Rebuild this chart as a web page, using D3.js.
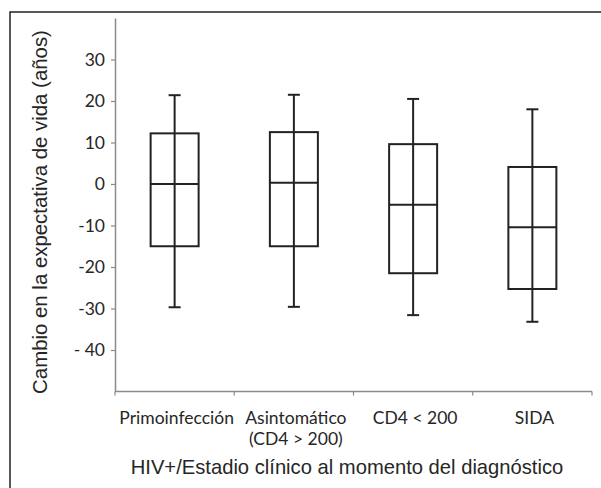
<!DOCTYPE html>
<html><head><meta charset="utf-8">
<script src="https://cdn.jsdelivr.net/npm/d3@7/dist/d3.min.js"></script>
<style>body{margin:0;background:#fff}svg{display:block}</style>
</head><body>
<script>
const categories = ["Primoinfección", "Asintomático|(CD4 > 200)", "CD4 < 200", "SIDA"];
const whiskerHigh = [21.4, 21.5, 20.5, 18.0];
const q3 = [12.2, 12.5, 9.6, 4.1];
const median = [0.0, 0.3, -5.0, -10.4];
const q1 = [-15.0, -15.0, -21.5, -25.3];
const whiskerLow = [-29.7, -29.6, -31.6, -33.2];
const yTicks = [30, 20, 10, 0, -10, -20, -30, -40];
const yTickLabels = ["30", "20", "10", "0", "-10", "-20", "-30", "- 40"];
const yTitle = "Cambio en la expectativa de vida (años)";
const xTitle = "HIV+/Estadio clínico al momento del diagnóstico";

const W = 601, H = 488;
const svg = d3.select("body").append("svg").attr("width", W).attr("height", H);

// frame
svg.append("rect").attr("x", 10).attr("y", 12).attr("width", 620).attr("height", 500)
  .attr("fill", "none").attr("stroke", "#222").attr("stroke-width", 1.5);

const y = d3.scaleLinear().domain([-50, 40]).range([391.5, 18]);
const x = d3.scaleBand().domain(categories).range([115, 592]).padding(0);

const axisColor = "#8a8a8a";
const textColor = "#262626";
const tickFont = "Lato, 'Open Sans', sans-serif";
const tickSize = "17.5px";

// Y axis
const ya = svg.append("g").attr("transform", "translate(115,0)")
  .call(d3.axisLeft(y).tickValues(yTicks).tickSize(4).tickSizeOuter(0).tickPadding(6)
    .tickFormat((d, i) => yTickLabels[i]));
ya.select(".domain").attr("stroke", axisColor).attr("stroke-width", 1.5);
ya.selectAll(".tick line").attr("stroke", axisColor).attr("stroke-width", 1.2);
ya.selectAll(".tick text").attr("fill", textColor).style("font-family", tickFont).style("font-size", tickSize);

// X axis
const xa = svg.append("g").attr("transform", "translate(0,391.5)");
xa.append("line").attr("x1", 115).attr("x2", 592).attr("y1", 0).attr("y2", 0)
  .attr("stroke", axisColor).attr("stroke-width", 1.5);
const edges = categories.map(c => x(c)).concat([x(categories[categories.length - 1]) + x.bandwidth()]);
xa.selectAll("line.tk").data(edges).enter().append("line").attr("class", "tk")
  .attr("x1", d => d).attr("x2", d => d).attr("y1", 0).attr("y2", 4)
  .attr("stroke", axisColor).attr("stroke-width", 1.2);

const labels = svg.append("g").selectAll("text").data(categories).enter().append("text")
  .attr("y", 424)
  .attr("text-anchor", "middle").attr("fill", textColor)
  .style("font-family", tickFont).style("font-size", tickSize);
labels.each(function(d) {
  const parts = d.split("|");
  d3.select(this).selectAll("tspan").data(parts).enter().append("tspan")
    .attr("x", x(d) + x.bandwidth() / 2 + 2).attr("dy", (p, i) => i === 0 ? 0 : 21).text(p => p);
});

// boxes
const boxW = 48, capW = 12;
const g = svg.append("g").attr("stroke", "#222").attr("stroke-width", 2).attr("fill", "none");
categories.forEach((c, i) => {
  const cx = x(c) + x.bandwidth() / 2;
  g.append("line").attr("x1", cx).attr("x2", cx).attr("y1", y(whiskerHigh[i])).attr("y2", y(whiskerLow[i]));
  g.append("line").attr("x1", cx - capW / 2).attr("x2", cx + capW / 2).attr("y1", y(whiskerHigh[i])).attr("y2", y(whiskerHigh[i]));
  g.append("line").attr("x1", cx - capW / 2).attr("x2", cx + capW / 2).attr("y1", y(whiskerLow[i])).attr("y2", y(whiskerLow[i]));
  g.append("rect").attr("x", cx - boxW / 2).attr("width", boxW)
    .attr("y", y(q3[i])).attr("height", y(q1[i]) - y(q3[i]));
  g.append("line").attr("x1", cx - boxW / 2).attr("x2", cx + boxW / 2).attr("y1", y(median[i])).attr("y2", y(median[i]));
});

// titles
svg.append("text").attr("transform", "translate(47,212) rotate(-90)")
  .attr("text-anchor", "middle").attr("fill", textColor)
  .style("font-family", "'Liberation Sans', Arial, sans-serif").style("font-size", "20.4px")
  .text(yTitle);
svg.append("text").attr("x", 347).attr("y", 474).attr("text-anchor", "middle").attr("fill", textColor)
  .style("font-family", "'Liberation Sans', Arial, sans-serif").style("font-size", "20.2px")
  .text(xTitle);
</script>
</body></html>
